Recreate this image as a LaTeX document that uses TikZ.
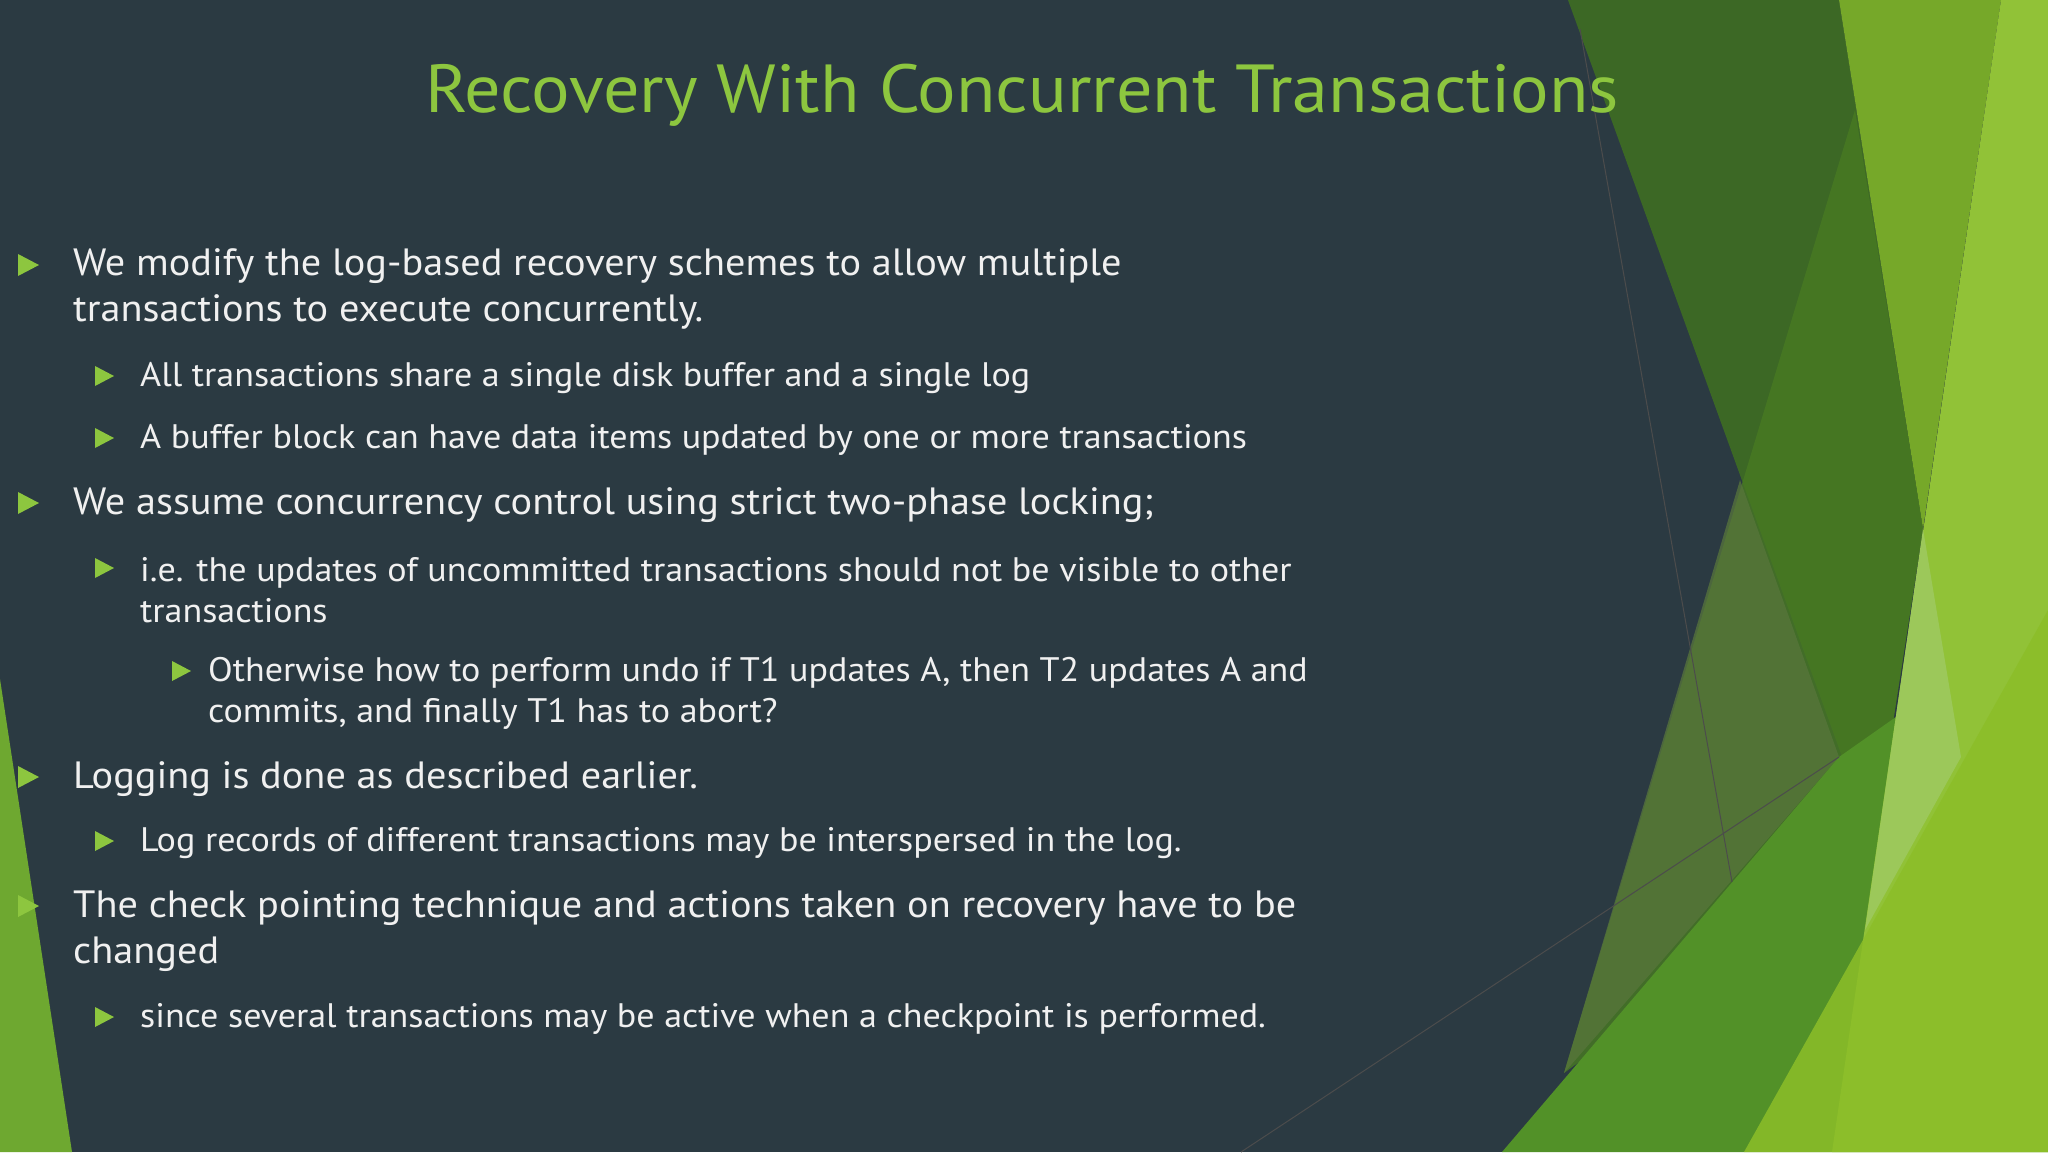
\documentclass[tikz,border=0pt]{standalone}
\usepackage{fontspec}
\setmainfont[FakeStretch=1.06]{PT Sans}
\begin{document}
\begin{tikzpicture}[x=1pt,y=-1pt,
  main/.style={anchor=west,text=white!94!black,font=\fontsize{38}{46}\selectfont,align=left,inner sep=0},
  sub/.style={anchor=west,text=white!94!black,font=\fontsize{34}{41}\selectfont,align=left,inner sep=0},
  tri/.style={fill=bul}]
\definecolor{bg}{HTML}{2B3A42}
\definecolor{bul}{HTML}{8DC63F}
\useasboundingbox (0,0) rectangle (2048,1152);
\fill[bg] (0,0) rectangle (2048,1152);
% decoration
\fill[color={rgb,255:red,62;green,110;blue,34},opacity=.9] (1568,0)--(1839,0)--(1923,529)--(1874,845)--cycle;
\fill[color={rgb,255:red,118;green,168;blue,41}] (1839,0)--(2001,0)--(1923,529)--cycle;
\fill[color={rgb,255:red,72;green,122;blue,34},opacity=.8] (1855,110)--(1923,529)--(1874,845)--(1564,1073)--cycle;
\fill[color={rgb,255:red,88;green,118;blue,60},opacity=.75] (1740,480)--(1839,757)--(1564,1073)--cycle;
\fill[color={rgb,255:red,82;green,145;blue,40}] (1502,1152)--(1839,757)--(2048,610)--(2048,1152)--cycle;
\fill[color={rgb,255:red,145;green,194;blue,55}] (2001,0)--(2048,0)--(2048,1152)--(1832,1152)--cycle;
\fill[color={rgb,255:red,156;green,200;blue,90}] (1923,529)--(1961,757)--(1865,930)--cycle;
\fill[color={rgb,255:red,140;green,190;blue,40},opacity=.85] (1744,1152)--(2048,610)--(2048,1152)--cycle;
\draw[black!70,line width=1] (1580,29)--(1732,882);
\draw[black!70,line width=1] (1241,1152)--(1839,757);
\fill[color={rgb,255:red,110;green,168;blue,48}] (0,679)--(72,1152)--(0,1152)--cycle;
% title
\node[text=bul,font=\fontsize{68}{80}\selectfont,inner sep=0] (title) at (1022,95) {Recovery With Concurrent Transactions};
% bullets
\newcommand{\mb}[1]{\fill[bul] (18,#1-11)--(39,#1)--(18,#1+11)--cycle;}
\newcommand{\sbb}[1]{\fill[bul] (95,#1-10)--(114,#1)--(95,#1+10)--cycle;}
\newcommand{\ssb}[1]{\fill[bul] (172,#1-10)--(191,#1)--(172,#1+10)--cycle;}
\mb{265} \node[main] (t1) at (73,289) {We modify the log-based recovery schemes to allow multiple\\transactions to execute concurrently.};
\sbb{376} \node[sub] (t2) at (140,378) {All transactions share a single disk buffer and a single log};
\sbb{438} \node[sub] (t3) at (140,440) {A buffer block can have data items updated by one or more transactions};
\mb{503} \node[main] (t4) at (73,505) {We assume concurrency control using strict two-phase locking;};
\sbb{568} \node[sub] (t5) at (140,590) {i.e. the updates of uncommitted transactions should not be visible to other\\transactions};
\ssb{671} \node[sub] (t6) at (208,693) {Otherwise how to perform undo if T1 updates A, then T2 updates A and\\commits, and finally T1 has to abort?};
\mb{777} \node[main] (t7) at (73,779) {Logging is done as described earlier.};
\sbb{841} \node[sub] (t8) at (140,843) {Log records of different transactions may be interspersed in the log.};
\mb{906} \node[main] (t9) at (73,931) {The check pointing technique and actions taken on recovery have to be\\changed};
\sbb{1017} \node[sub] (t10) at (140,1019) {since several transactions may be active when a checkpoint is performed.};
\end{tikzpicture}
\end{document}
